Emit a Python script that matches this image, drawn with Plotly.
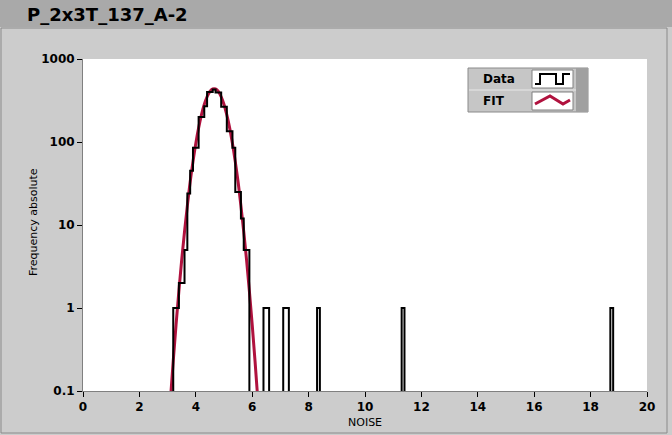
import plotly.graph_objects as go

# ---- data -------------------------------------------------------------
bin_width = 0.1
bin_centers = [3.2, 3.3, 3.4, 3.5, 3.6, 3.7, 3.8, 3.9, 4.0, 4.1, 4.2, 4.3, 4.4,
               4.5, 4.6, 4.7, 4.8, 4.9, 5.0, 5.1, 5.2, 5.3, 5.4, 5.5, 5.6, 5.7,
               5.8, 5.9, 6.0, 6.1, 6.5, 7.2, 8.3, 11.3, 18.7, 18.8]
bin_counts = [1, 0, 1, 2, 5, 11, 24, 45, 85, 135, 200, 270, 345,
              400, 440, 430, 395, 330, 265, 200, 135, 85, 48, 25, 11, 12,
              5, 3, 0, 2, 1, 1, 1, 1, 1, 1]

fit_x = [3.0, 3.1, 3.2, 3.3, 3.4, 3.5, 3.6, 3.7, 3.8, 3.9, 4.0, 4.1, 4.2, 4.3,
         4.4, 4.5, 4.6, 4.7, 4.8, 4.9, 5.0, 5.1, 5.2, 5.3, 5.4, 5.5, 5.6, 5.7,
         5.8, 5.9, 6.0, 6.1, 6.2, 6.3]
fit_y = [0.025, 0.078, 0.23, 0.63, 1.6, 3.8, 8.3, 17, 33, 58, 96, 148, 212, 283,
         351, 406, 436, 436, 406, 351, 283, 212, 148, 96, 58, 33, 17, 8.3,
         3.8, 1.6, 0.63, 0.23, 0.078, 0.025]

x_ticks = [0, 2, 4, 6, 8, 10, 12, 14, 16, 18, 20]
y_ticks = [0.1, 1, 10, 100, 1000]
y_tick_text = ["0.1", "1", "10", "100", "1000"]

title_text = "P_2x3T_137_A-2"
x_title = "NOISE"
y_title = "Frequency absolute"

# ---- build step outline over a full bin grid --------------------------
counts = {round(c, 1): n for c, n in zip(bin_centers, bin_counts)}
n_bins = int(round((19.5 - 2.5) / bin_width))
step_x, step_y = [], []
for i in range(n_bins):
    c = round(2.5 + bin_width * (i + 0.5), 2)
    v = counts.get(round(c, 1), 0)
    yv = v if v > 0 else 1e-3
    step_x += [c - bin_width / 2, c + bin_width / 2]
    step_y += [yv, yv]

# ---- layout geometry --------------------------------------------------
W, H = 672, 435
L, R, T, B = 83, 25, 59, 44
PW, PH = W - L - R, H - T - B


def px(x):
    return (x - L) / PW


def py(y):
    return (H - B - y) / PH


FONT = "DejaVu Sans"
CRIMSON = "#b0123e"

fig = go.Figure()
fig.add_trace(go.Scatter(x=fit_x, y=fit_y, mode="lines",
                         line=dict(color=CRIMSON, width=3, shape="spline"),
                         showlegend=False, hoverinfo="skip"))
fig.add_trace(go.Scatter(x=step_x, y=step_y, mode="lines",
                         line=dict(color="black", width=2),
                         showlegend=False, hoverinfo="skip"))

shapes = []
# title bar
shapes.append(dict(type="rect", xref="paper", yref="paper",
                   x0=px(0), x1=px(W), y0=py(27), y1=py(0),
                   fillcolor="#a9a9a9", line=dict(width=0), layer="below"))
# panel border
shapes.append(dict(type="rect", xref="paper", yref="paper",
                   x0=px(1), x1=px(667), y0=py(433), y1=py(28),
                   fillcolor="rgba(0,0,0,0)", line=dict(color="#8a8a8a", width=1),
                   layer="below"))
# legend box
shapes.append(dict(type="rect", xref="paper", yref="paper",
                   x0=px(468), x1=px(588), y0=py(112), y1=py(68),
                   fillcolor="#c6c6c6", line=dict(color="#8a8a8a", width=1)))
shapes.append(dict(type="rect", xref="paper", yref="paper",
                   x0=px(576), x1=px(588), y0=py(112), y1=py(68),
                   fillcolor="#a0a0a0", line=dict(width=0)))
shapes.append(dict(type="line", xref="paper", yref="paper",
                   x0=px(469), x1=px(576), y0=py(90), y1=py(90),
                   line=dict(color="#e8e8e8", width=1)))
for (y0, y1) in [(70, 88), (92, 110)]:
    shapes.append(dict(type="rect", xref="paper", yref="paper",
                       x0=px(532), x1=px(573), y0=py(y1), y1=py(y0),
                       fillcolor="white", line=dict(color="#808080", width=1)))
# legend icons
data_icon = [(535, 84), (540, 84), (540, 74), (556, 74), (556, 84),
             (563, 84), (563, 74), (570, 74)]
fit_icon = [(535, 104), (550, 96), (563, 104), (570, 100)]


def path_of(pts):
    s = ""
    for i, (a, b) in enumerate(pts):
        s += ("M" if i == 0 else "L") + f"{px(a):.5f},{py(b):.5f} "
    return s.strip()


shapes.append(dict(type="path", xref="paper", yref="paper",
                   path=path_of(data_icon), line=dict(color="black", width=2)))
shapes.append(dict(type="path", xref="paper", yref="paper",
                   path=path_of(fit_icon), line=dict(color=CRIMSON, width=3)))

annotations = [
    dict(text=title_text, xref="paper", yref="paper", x=px(25), y=py(14),
         xanchor="left", yanchor="middle", showarrow=False,
         font=dict(family=FONT, size=18, color="black", weight="bold")),
    dict(text="Data", xref="paper", yref="paper", x=px(481), y=py(79),
         xanchor="left", yanchor="middle", showarrow=False,
         font=dict(family=FONT, size=12, color="black", weight="bold")),
    dict(text="FIT", xref="paper", yref="paper", x=px(481), y=py(101),
         xanchor="left", yanchor="middle", showarrow=False,
         font=dict(family=FONT, size=12, color="black", weight="bold")),
    dict(text=x_title, xref="paper", yref="paper", x=px(365), y=py(422),
         xanchor="center", yanchor="middle", showarrow=False,
         font=dict(family=FONT, size=11, color="black")),
    dict(text=y_title, xref="paper", yref="paper", x=px(33), y=py(222),
         xanchor="center", yanchor="middle", showarrow=False, textangle=-90,
         font=dict(family=FONT, size=11, color="black")),
]

fig.update_layout(
    width=W, height=H,
    margin=dict(l=L, r=R, t=T, b=B),
    paper_bgcolor="#cccccc", plot_bgcolor="white",
    showlegend=False,
    shapes=shapes, annotations=annotations,
    font=dict(family=FONT, color="black"),
)
fig.update_xaxes(range=[0, 20], tickvals=x_ticks, ticks="outside", ticklen=5,
                 tickcolor="black", showgrid=False, zeroline=False,
                 showline=True, linecolor="#808080", linewidth=1, mirror=False,
                 automargin=False,
                 tickfont=dict(family=FONT, size=12, weight="bold"))
fig.update_yaxes(type="log", range=[-1, 3], tickvals=y_ticks, ticktext=y_tick_text,
                 ticks="outside", ticklen=5, tickcolor="black", showgrid=False,
                 zeroline=False, showline=True, linecolor="#808080", linewidth=1,
                 automargin=False,
                 tickfont=dict(family=FONT, size=12, weight="bold"))

fig.write_html("out.html",
               config={"displayModeBar": False},
               post_script="document.body.style.margin='0';"
                           "document.body.style.overflow='hidden';")
